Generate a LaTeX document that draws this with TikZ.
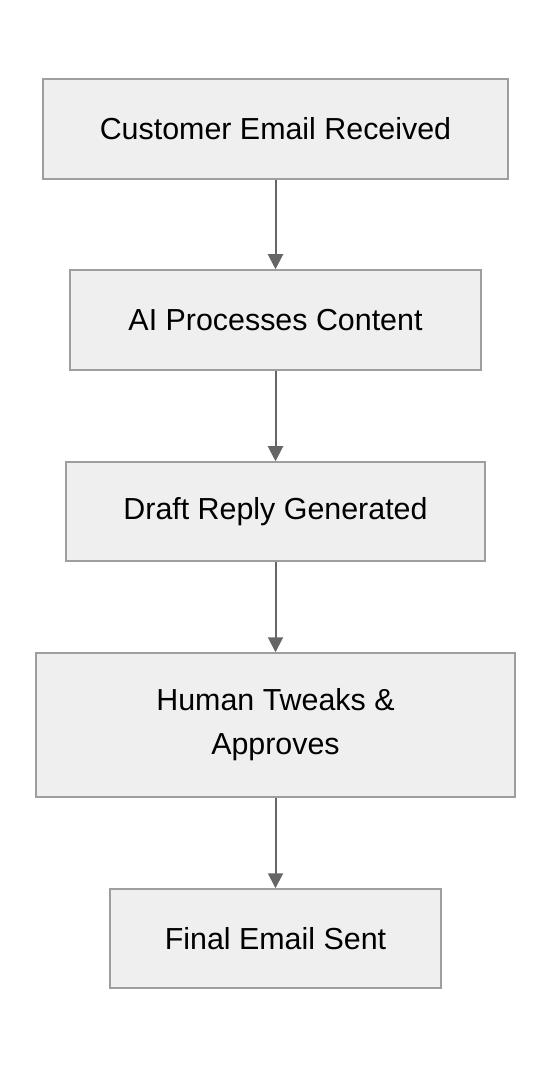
\documentclass[tikz,border=0pt]{standalone}
\usepackage{fontspec}
\setmainfont{Liberation Sans}
\usetikzlibrary{arrows.meta}
\definecolor{boxfillc}{HTML}{EFEFEF}
\definecolor{boxlinec}{HTML}{9E9E9E}
\definecolor{arrowc}{HTML}{666666}
\tikzset{
  stepbox/.style={draw=boxlinec, fill=boxfillc, line width=0.75pt, shape=rectangle, inner sep=0pt,
    align=center, font=\fontsize{15.2}{22}\selectfont},
  flow/.style={draw=arrowc, line width=1pt, -{Triangle[width=7.5pt,length=7.5pt]}}
}
\begin{document}
\begin{tikzpicture}[x=0.5pt,y=-0.5pt]
        \useasboundingbox (0,0) rectangle (552,1068);
        \node[stepbox, minimum width=232.5pt, minimum height=50pt]
        (received) at (275.5,129) {Customer Email Received};
        \node[stepbox, minimum width=205.5pt, minimum height=50pt]
        (processes) at (275.5,320) {AI Processes Content};
        \node[stepbox, minimum width=209.5pt, minimum height=49.5pt]
        (draft) at (275.5,511.5) {Draft Reply Generated};
        \node[stepbox, minimum width=239.5pt, minimum height=72pt]
        (tweaks) at (275.5,725) {Human Tweaks \&\\Approves};
        \node[stepbox, minimum width=165.5pt, minimum height=49.5pt]
        (sent) at (275.5,938.5) {Final Email Sent};

        \draw[flow] (received) -- (processes);
        \draw[flow] (processes) -- (draft);
        \draw[flow] (draft) -- (tweaks);
        \draw[flow] (tweaks) -- (sent);
        \end{tikzpicture}
\end{document}
